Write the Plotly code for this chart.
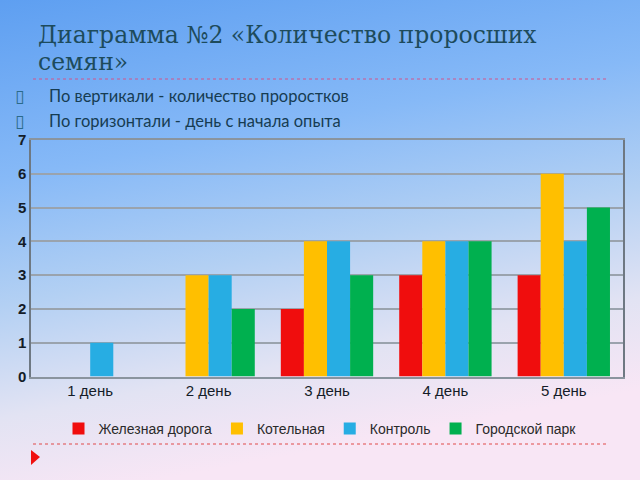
import base64
import plotly.graph_objects as go

days = ["1 день", "2 день", "3 день", "4 день", "5 день"]
series_names = ["Железная дорога", "Котельная", "Контроль", "Городской парк"]
rail = [0, 0, 2, 3, 3]
boiler = [0, 3, 4, 4, 6]
control = [1, 3, 4, 4, 4]
park = [0, 2, 3, 4, 5]
series_values = [rail, boiler, control, park]
colors = ["#f00d0d", "#ffbf00", "#27ade3", "#00b04f"]

title_line1 = "Диаграмма №2 «Количество проросших"
title_line2 = "семян»"
bullets = ["По вертикали - количество проростков", "По горизонтали - день с начала опыта"]

W, H = 640, 480

svg = (
    "<svg xmlns='http://www.w3.org/2000/svg' width='640' height='480' preserveAspectRatio='none'>"
    "<defs><linearGradient id='g' x1='0' y1='0' x2='0.25' y2='1'>"
    "<stop offset='0' stop-color='#5e9ff1'/>"
    "<stop offset='0.35' stop-color='#86b9f7'/>"
    "<stop offset='0.6' stop-color='#b3d0f3'/>"
    "<stop offset='0.82' stop-color='#e2e3f3'/>"
    "<stop offset='1' stop-color='#f8e6f5'/>"
    "</linearGradient></defs><rect width='640' height='480' fill='url(#g)'/></svg>"
)
src = "data:image/svg+xml;base64," + base64.b64encode(svg.encode()).decode()

fig = go.Figure()
for name, vals, col in zip(series_names, series_values, colors):
    fig.add_trace(go.Bar(x=days, y=vals, name=name, marker=dict(color=col, line=dict(width=0))))

def py(y):
    return 1 - y / H

def px(x):
    return x / W

annotations = [
    dict(text=title_line1, x=px(36), y=py(35), xanchor="left", yanchor="middle",
         font=dict(family="DejaVu Serif", size=23.5, color="#1d4b5c")),
    dict(text=title_line2, x=px(36), y=py(62), xanchor="left", yanchor="middle",
         font=dict(family="DejaVu Serif", size=23.5, color="#1d4b5c")),
]
for i, b in enumerate(bullets):
    yy = 96 + i * 25
    annotations.append(dict(text="▯", x=px(13), y=py(yy), xanchor="left", yanchor="middle",
                            font=dict(family="DejaVu Sans", size=17, color="#2a6a8a")))
    annotations.append(dict(text=b, x=px(47), y=py(yy), xanchor="left", yanchor="middle",
                            font=dict(family="Lato", size=16.5, color="#163c52")))
for a in annotations:
    a.update(xref="paper", yref="paper", showarrow=False)

shapes = [
    dict(type="line", xref="paper", yref="paper", x0=px(33), x1=px(607), y0=py(79), y1=py(79),
         line=dict(color="#d2548c", width=1.2, dash="dot")),
    dict(type="line", xref="paper", yref="paper", x0=px(33), x1=px(607), y0=py(444), y1=py(444),
         line=dict(color="#e04a4a", width=1.2, dash="dot")),
    dict(type="path", xref="paper", yref="paper",
         path=f"M {px(31)} {py(450)} L {px(40)} {py(457)} L {px(31)} {py(465)} Z",
         fillcolor="#f01010", line=dict(width=0)),
]

fig.update_layout(
    width=W, height=H,
    margin=dict(l=0, r=0, t=0, b=0, autoexpand=False),
    paper_bgcolor="rgba(0,0,0,0)",
    plot_bgcolor="#e8ecf2",
    barmode="group", bargap=0.22, bargroupgap=0,
    images=[dict(source=src, xref="paper", yref="paper", x=0, y=1, sizex=1, sizey=1,
                 xanchor="left", yanchor="top", sizing="stretch", layer="below")],
    xaxis=dict(domain=[px(31), px(623)], showgrid=False, ticks="", mirror=True, automargin=False,
               showline=True, linecolor="#8a949e", linewidth=1.5,
               tickfont=dict(family="Liberation Sans", size=15, color="#141c28")),
    yaxis=dict(domain=[py(376.5), py(140)], range=[0, 7], dtick=1, showgrid=True, automargin=False,
               gridcolor="#9aa3ad", gridwidth=1.5, showline=True, linecolor="#6e7882",
               linewidth=1.5, mirror=True, ticks="", zeroline=False,
               tickfont=dict(family="Liberation Sans", size=15, color="#141c28", weight="bold")),
    legend=dict(orientation="h", x=0.5, xanchor="center", y=py(429), yanchor="middle",
                bgcolor="rgba(0,0,0,0)", itemwidth=30,
                font=dict(family="Liberation Sans", size=14, color="#2a2a2a")),
    annotations=annotations,
    shapes=shapes,
    showlegend=True,
)

fig.write_html("out.html")
